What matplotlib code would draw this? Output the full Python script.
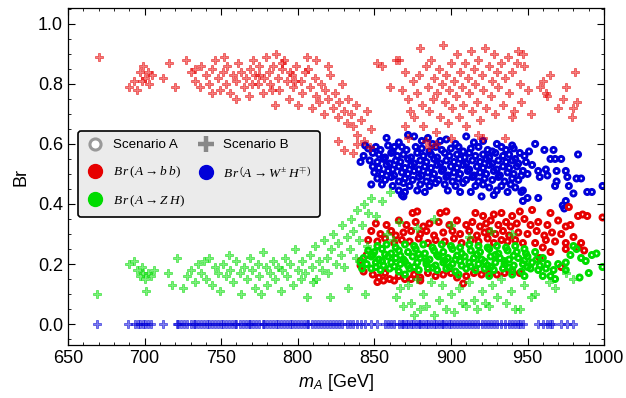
import matplotlib

matplotlib.use("Agg")

import matplotlib.pyplot as plt  # noqa: E402
from matplotlib.lines import Line2D  # noqa: E402
from matplotlib.ticker import FormatStrFormatter, MultipleLocator  # noqa: E402

plt.rcParams["font.family"] = ["Liberation Sans", "DejaVu Sans"]
plt.rcParams["mathtext.fontset"] = "custom"
plt.rcParams["mathtext.rm"] = "Liberation Serif"
plt.rcParams["mathtext.it"] = "Liberation Serif:italic"
plt.rcParams["mathtext.sf"] = "Liberation Sans:italic"

RED = "#e60000"
GREEN = "#00dc00"
BLUE = "#0000d8"

# Scenario B (plus markers): (m_A, Br)
bb_scen_b = [
    (670, .89),
    (690, .79), (693, .81), (695, .78), (697, .84), (699, .86), (700, .82), (702, .84), (703, .80), (705, .83), (698, .81),
    (712, .82), (716, .87), (720, .79), (727, .88), (730, .84), (733, .81), (736, .79), (737, .86), (740, .83), (742, .80),
    (744, .85), (746, .88), (748, .82), (749, .78), (751, .84), (753, .80), (754, .86), (756, .77), (758, .83), (760, .81),
    (761, .87), (763, .84), (765, .79), (766, .82), (768, .76), (769, .85), (771, .88), (772, .83), (774, .80), (775, .86),
    (777, .77), (778, .82), (779, .89), (781, .84), (782, .80), (784, .86), (785, .73), (787, .82), (788, .78), (790, .85),
    (791, .88), (793, .81), (794, .75), (796, .83), (797, .79), (799, .86), (800, .73), (802, .81), (803, .77), (805, .84),
    (806, .89), (808, .79), (809, .72), (811, .82), (812, .76), (814, .74), (815, .80), (817, .70), (818, .78), (820, .75),
    (821, .83), (823, .72), (824, .77), (826, .69), (827, .74), (829, .80), (830, .71), (832, .67), (833, .75), (835, .70),
    (836, .66), (838, .73), (839, .63), (841, .68), (843, .61), (845, .71), (847, .59), (848, .65), (826, .61), (830, .58),
    (836, .57), (839, .60), (812, .88), (820, .86), (760, .75), (744, .77), (733, .85), (752, .89), (786, .90), (790, .87),
    (770, .80), (775, .83), (783, .78), (795, .84), (798, .81), (807, .85),
    (852, .87), (855, .86), (860, .79), (864, .88), (866, .88), (868, .78), (870, .84), (872, .75), (873, .71), (875, .81),
    (876, .69), (878, .77), (879, .83), (880, .92), (881, .73), (882, .66), (884, .86), (885, .79), (886, .71), (887, .88),
    (888, .75), (889, .82), (890, .64), (891, .77), (892, .85), (893, .69), (894, .80), (895, .93), (896, .74), (897, .83),
    (898, .67), (899, .78), (900, .87), (901, .72), (902, .81), (903, .76), (904, .90), (905, .69), (906, .84), (907, .79),
    (908, .73), (909, .87), (910, .66), (911, .82), (912, .77), (913, .91), (914, .71), (915, .85), (916, .80), (917, .74),
    (918, .88), (919, .68), (920, .83), (921, .78), (922, .92), (923, .72), (925, .86), (926, .76), (927, .81), (928, .90),
    (929, .70), (930, .84), (931, .79), (933, .87), (934, .73), (935, .82), (937, .89), (938, .77), (940, .84), (941, .71),
    (943, .87), (945, .80), (946, .74), (948, .86), (950, .78), (952, .70), (940, .69), (944, .91), (947, .90), (958, .79),
    (960, .81), (962, .77), (963, .76), (965, .83), (970, .72), (973, .75), (975, .79), (979, .69), (980, .72), (981, .84),
    (982, .74), (884, .61), (886, .59), (918, .63), (921, .62), (935, .62), (900, .62), (890, .60), (870, .66), (872, .62),
]

zh_scen_b = [
    (669, .10),
    (690, .20), (693, .21), (695, .18), (697, .16), (699, .17), (700, .15), (702, .17), (704, .16), (698, .19), (701, .11),
    (706, .18), (715, .17), (718, .13), (721, .22), (725, .12), (728, .16), (730, .18), (733, .14), (735, .20), (737, .17),
    (739, .21), (740, .15), (742, .22), (744, .13), (746, .19), (748, .17), (749, .11), (751, .20), (753, .16), (755, .23),
    (756, .18), (758, .14), (760, .21), (762, .17), (763, .10), (765, .19), (767, .15), (769, .22), (770, .18), (772, .12),
    (774, .20), (775, .16), (777, .24), (779, .19), (780, .13), (782, .17), (784, .21), (785, .15), (787, .19), (789, .11),
    (790, .18), (792, .22), (793, .16), (795, .20), (797, .13), (798, .25), (800, .18), (802, .15), (803, .21), (805, .17),
    (806, .09), (808, .23), (809, .19), (811, .26), (812, .15), (814, .21), (816, .18), (817, .28), (819, .22), (820, .17),
    (822, .25), (823, .30), (825, .20), (826, .27), (828, .23), (829, .33), (830, .19), (832, .29), (834, .25), (835, .35),
    (836, .31), (838, .22), (839, .38), (840, .28), (842, .33), (843, .40), (845, .26), (846, .37), (848, .42), (844, .10),
    (833, .12), (821, .09), (810, .14), (776, .10),
    (851, .36), (855, .41), (858, .30), (860, .44), (864, .09), (867, .12), (869, .06), (872, .13), (874, .07), (876, .03),
    (878, .15), (880, .05), (882, .10), (884, .06), (887, .14), (889, .03), (892, .08), (894, .13), (897, .05), (900, .10),
    (902, .04), (905, .12), (907, .07), (910, .06), (912, .14), (915, .08), (917, .05), (920, .11), (922, .07), (925, .06),
    (927, .13), (930, .09), (933, .15), (936, .07), (939, .11), (942, .05), (945, .05), (948, .13), (952, .09), (955, .10),
    (964, .14), (968, .12), (975, .17), (980, .15), (866, .34), (878, .32), (889, .35), (900, .33), (912, .29), (862, .28),
    (926, .31), (940, .30),
]

wh_scen_b_m = [
    669, 689, 694, 696, 697, 699, 700, 702, 704, 712, 721, 722, 724, 726, 728, 730, 732, 733, 735, 737, 739, 741, 742,
    744, 746, 748, 750, 751, 753, 755, 757, 759, 760, 762, 764, 766, 768, 769, 771, 773, 775, 777, 778, 780, 782, 784,
    786, 787, 789, 791, 793, 795, 796, 798, 800, 802, 804, 806, 807, 809, 811, 813, 815, 817, 819, 821, 823, 825, 827,
    829, 832, 834, 836, 839, 841, 844, 848, 852, 857, 859, 861, 863, 866, 868, 869, 871, 872, 874, 875, 877, 879, 880,
    882, 884, 885, 887, 889, 890, 892, 894, 895, 897, 899, 900, 902, 904, 906, 908, 910, 912, 914, 916, 918, 920, 922,
    924, 926, 928, 930, 933, 935, 938, 940, 942, 944, 945, 947, 957, 960, 963, 965, 966, 972, 976, 980,
]
wh_scen_b_br = [0.0] * len(wh_scen_b_m)

# Scenario A (open circles): (m_A, Br)
wh_scen_a = [
    (858, .62), (866, .605), (872, .63), (876, .625), (881, .61), (885, .62), (893, .61), (897, .615), (903, .60),
    (910, .625), (915, .605), (921, .61), (930, .60), (940, .595), (863, .59), (888, .60), (955, .60), (961, .58),
    (967, .58), (844, .595), (841, .54),
    (846, .585), (851, .59), (854, .58), (859, .595), (862, .575), (868, .59), (871, .58), (877, .59), (881, .585),
    (886, .575), (890, .59), (894, .58), (900, .585), (905, .59), (908, .575), (913, .585), (918, .59), (924, .58),
    (927, .575), (933, .59), (936, .58), (941, .585), (945, .57), (951, .575),
    (843, .56), (849, .57), (853, .565), (857, .555), (861, .57), (865, .56), (869, .565), (874, .555), (878, .57),
    (882, .56), (887, .565), (891, .555), (896, .57), (899, .56), (904, .565), (909, .555), (912, .57), (916, .56),
    (921, .565), (925, .555), (929, .57), (934, .56), (938, .565), (942, .55), (948, .56), (965, .55), (968, .55),
    (972, .55), (983, .565),
    (847, .545), (852, .54), (856, .55), (860, .535), (864, .545), (867, .54), (872, .55), (876, .535), (880, .545),
    (884, .54), (889, .55), (893, .535), (897, .545), (902, .54), (906, .55), (910, .535), (914, .545), (919, .54),
    (923, .55), (927, .535), (931, .545), (936, .54), (940, .545), (944, .535), (949, .54), (953, .53),
    (849, .525), (853, .52), (858, .53), (862, .515), (866, .525), (870, .52), (874, .53), (879, .515), (883, .525),
    (887, .52), (891, .53), (895, .515), (900, .525), (904, .52), (908, .53), (912, .515), (917, .525), (921, .52),
    (925, .53), (930, .515), (934, .525), (938, .52), (943, .525), (947, .51), (957, .51), (962, .515), (969, .51),
    (975, .51),
    (850, .505), (855, .50), (859, .51), (863, .495), (868, .505), (872, .50), (876, .51), (881, .495), (885, .505),
    (889, .50), (894, .51), (898, .495), (902, .505), (906, .50), (911, .51), (915, .495), (919, .505), (923, .50),
    (928, .51), (932, .495), (937, .505), (941, .50), (946, .495), (950, .50), (958, .49), (963, .495), (976, .49),
    (852, .485), (857, .48), (861, .49), (866, .475), (870, .485), (875, .48), (879, .49), (884, .475), (888, .485),
    (892, .48), (897, .49), (901, .475), (905, .485), (910, .48), (914, .49), (918, .475), (922, .485), (927, .48),
    (931, .49), (935, .475), (940, .485), (944, .48), (982, .485), (985, .485), (969, .475),
    (848, .465), (855, .465), (862, .46), (869, .47), (873, .46), (880, .465), (886, .46), (890, .47), (896, .465),
    (903, .46), (908, .47), (916, .46), (921, .465), (925, .455), (933, .46), (939, .465), (942, .455), (968, .46),
    (977, .46), (999, .46),
    (866, .445), (870, .44), (878, .445), (883, .44), (898, .445), (906, .44), (913, .44), (930, .445), (937, .44),
    (946, .44), (947, .445), (989, .44), (992, .44), (980, .435),
    (868, .43), (869, .425), (920, .425), (928, .43), (950, .42), (957, .42), (947, .41), (975, .41), (973, .395),
    (974, .385),
]

bb_scen_a = [
    (875, .37), (878, .375), (893, .37), (897, .375), (916, .37), (921, .36), (928, .365), (933, .37), (940, .36),
    (945, .375), (953, .38), (965, .37), (977, .39), (983, .36), (986, .365), (989, .36), (999, .355),
    (851, .335), (858, .33), (866, .345), (871, .33), (877, .34), (882, .325), (886, .335), (892, .34), (899, .33),
    (904, .345), (910, .33), (914, .34), (919, .325), (923, .335), (926, .345), (931, .33), (936, .34), (939, .325),
    (943, .335), (948, .35), (952, .33), (957, .34), (963, .33), (970, .345), (975, .325), (978, .33),
    (848, .31), (854, .30), (861, .31), (864, .295), (869, .305), (874, .31), (880, .30), (884, .31), (889, .295),
    (895, .305), (901, .31), (906, .30), (912, .31), (917, .295), (922, .305), (925, .31), (929, .30), (934, .31),
    (938, .295), (944, .305), (950, .30), (956, .31), (961, .295), (966, .305), (972, .30), (980, .29),
    (846, .28), (852, .275), (857, .285), (863, .27), (868, .28), (873, .275), (879, .285), (885, .27), (890, .28),
    (896, .275), (902, .285), (907, .27), (913, .28), (918, .275), (924, .285), (928, .27), (933, .28), (937, .275),
    (942, .28), (947, .27), (955, .27), (962, .28), (968, .275), (975, .27), (985, .27),
    (843, .175), (849, .165), (853, .155), (857, .17), (860, .15), (866, .16), (870, .15), (876, .165), (880, .155),
    (885, .17), (890, .16), (895, .165), (900, .17), (904, .155), (910, .16), (915, .17), (920, .165), (925, .17),
    (930, .165), (935, .17), (940, .175), (945, .17), (852, .14), (856, .145), (874, .15), (863, .145), (908, .135),
    (880, .145),
    (841, .21), (841, .195), (845, .23), (958, .22), (965, .24), (975, .25), (983, .255), (987, .245), (972, .19),
    (960, .255),
]

zh_scen_a = [
    (852, .26), (858, .265), (864, .255), (870, .265), (876, .26), (882, .265), (888, .255), (894, .265), (900, .26),
    (906, .255), (912, .265), (918, .26), (924, .255), (930, .26), (936, .255), (942, .26), (948, .25),
    (846, .245), (850, .24), (855, .25), (861, .235), (866, .245), (872, .24), (877, .25), (883, .235), (889, .245),
    (895, .24), (901, .25), (907, .235), (913, .245), (919, .24), (925, .25), (931, .235), (937, .245), (943, .24),
    (949, .235), (955, .24),
    (843, .22), (848, .225), (853, .215), (859, .225), (864, .22), (869, .215), (875, .225), (880, .22), (886, .215),
    (892, .225), (898, .22), (903, .215), (909, .225), (915, .22), (920, .215), (926, .225), (932, .22), (938, .215),
    (944, .22), (950, .225), (956, .215), (960, .22),
    (845, .20), (851, .205), (856, .195), (861, .205), (867, .20), (872, .195), (878, .205), (884, .20), (890, .195),
    (895, .205), (901, .20), (907, .195), (912, .205), (918, .20), (924, .195), (929, .205), (935, .20), (941, .195),
    (947, .20), (953, .205), (958, .195), (963, .20),
    (848, .185), (854, .18), (860, .185), (866, .175), (873, .185), (879, .18), (885, .185), (891, .18), (897, .185),
    (903, .175), (910, .185), (916, .18), (922, .185), (928, .18), (934, .185), (940, .18), (946, .175), (952, .185),
    (957, .18), (962, .185), (967, .18),
    (849, .23), (857, .232), (867, .228), (879, .233), (891, .23), (904, .228), (917, .232), (929, .23), (941, .228),
    (851, .19), (863, .192), (876, .19), (888, .188), (899, .19), (913, .192), (926, .19), (938, .188), (950, .19),
    (855, .21), (870, .208), (884, .21), (896, .212), (906, .21), (922, .208), (935, .21), (948, .212),
    (870, .165), (905, .165), (925, .16), (940, .165), (948, .16), (960, .16),
    (970, .20), (975, .205), (978, .23), (982, .25), (980, .26), (985, .22), (988, .21), (992, .23), (995, .235),
    (990, .17), (984, .155), (965, .16), (968, .15), (999, .19), (975, .18), (841, .205), (842, .185),
]


def _split(points):
    return [p[0] for p in points], [p[1] for p in points]


fig = plt.figure(figsize=(6.26, 3.98), dpi=100)
ax = fig.add_axes([0.1086, 0.133, 0.8564, 0.847])

circle_kw = dict(marker="o", s=13.5, facecolors="none", linewidths=2.1)
for pts, color in [(wh_scen_a, BLUE), (bb_scen_a, RED), (zh_scen_a, GREEN)]:
    m, br = _split(pts)
    ax.scatter(m, br, edgecolors=color, **circle_kw)

plus_kw = dict(marker="P", s=30, linewidths=0.7, alpha=0.5)
m, br = _split(bb_scen_b)
ax.scatter(m, br, color=RED, edgecolors=RED, **plus_kw)
m, br = _split(zh_scen_b)
ax.scatter(m, br, color=GREEN, edgecolors=GREEN, **plus_kw)
ax.scatter(wh_scen_b_m, wh_scen_b_br, color=BLUE, edgecolors=BLUE, **plus_kw)

ax.set_xlim(650, 1000)
ax.set_ylim(-0.07, 1.053)
ax.xaxis.set_major_locator(MultipleLocator(50))
ax.xaxis.set_minor_locator(MultipleLocator(10))
ax.yaxis.set_major_locator(MultipleLocator(0.2))
ax.yaxis.set_minor_locator(MultipleLocator(0.05))
ax.yaxis.set_major_formatter(FormatStrFormatter("%.1f"))
ax.tick_params(which="both", direction="in", top=True, right=True, labelsize=13)
ax.tick_params(which="major", length=5, width=0.8)
ax.tick_params(which="minor", length=2.5, width=0.6)
for sp in ax.spines.values():
    sp.set_linewidth(0.9)

ax.set_xlabel(r"$\mathsf{m}_\mathsf{A}$ [GeV]", fontsize=13, labelpad=4)
ax.set_ylabel("Br", fontsize=13, labelpad=6)

handles = [
    Line2D([], [], ls="none", marker="o", ms=8, mfc="white", mec="#999999", mew=2.2),
    Line2D([], [], ls="none", marker="o", ms=10, mfc=RED, mec=RED),
    Line2D([], [], ls="none", marker="o", ms=10, mfc=GREEN, mec=GREEN),
    Line2D([], [], ls="none", marker="+", ms=12, mec="#888888", mew=3.2),
    Line2D([], [], ls="none", marker="o", ms=10, mfc=BLUE, mec=BLUE),
]
labels = [
    "Scenario A",
    r"$B\,r\,(A \rightarrow b\;b)$",
    r"$B\,r\,(A \rightarrow Z\;H)$",
    "Scenario B",
    r"$B\,r\,\left(A \rightarrow W^{\pm}\;H^{\mp}\right)$",
]
leg = ax.legend(
    handles, labels, ncol=2, loc="upper left", bbox_to_anchor=(0.006, 0.655),
    fontsize=9.6, frameon=True, fancybox=True, facecolor="#ebebeb", edgecolor="black",
    framealpha=1, labelspacing=1.0, handletextpad=0.6, columnspacing=0.9,
    borderpad=0.6, handlelength=1.4,
)
leg.get_frame().set_linewidth(1.2)

fig.savefig("out.png", dpi=100)
